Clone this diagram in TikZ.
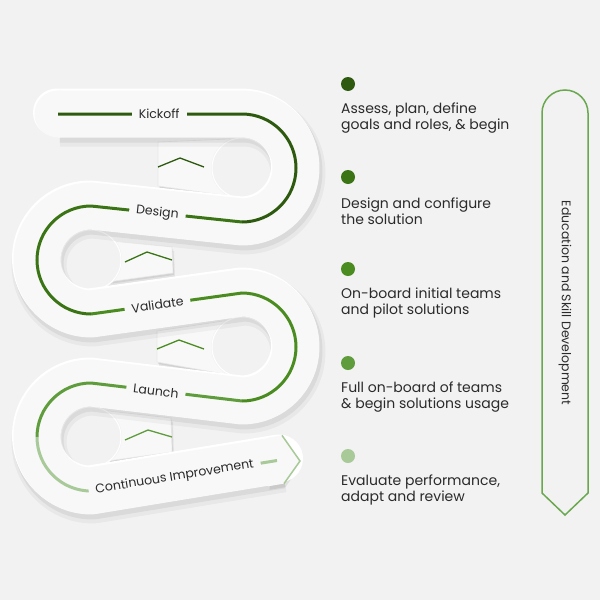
\documentclass[tikz,border=0pt]{standalone}
\usepackage{fontspec}
\setmainfont{Poppins}
\usetikzlibrary{positioning}

\definecolor{bgcol}{HTML}{F2F2F2}
\definecolor{ribbon}{HTML}{F8F8F8}
\definecolor{gA}{HTML}{2D5A0E}
\definecolor{gB}{HTML}{3A7414}
\definecolor{gC}{HTML}{4A8C20}
\definecolor{gD}{HTML}{5E9C3C}
\definecolor{gE}{HTML}{A8C998}
\definecolor{frame}{HTML}{6AA84F}
\definecolor{ink}{HTML}{2A2A2A}

% centre line of the ribbon and its arrow end
\newcommand\ribbonpath{(58,114) -- (242,114) arc[start angle=-90, end angle=90, radius=54]
  -- (91,206) arc[start angle=-90, end angle=-270, radius=54]
  -- (242,293) arc[start angle=-90, end angle=90, radius=54]
  -- (91,383) arc[start angle=-90, end angle=-270, radius=54]
  -- (280,460)}
\newcommand\arrowend{(268,437.7) -- (282,435.4) -- (300,461) -- (284,483.6) -- (268,486.3) -- cycle}

\begin{document}
\begin{tikzpicture}[x=1pt, y=-1pt,
    track/.style={line width=3pt},
    steplabel/.style={fill=ribbon, text=ink, sloped, inner xsep=7pt, inner ysep=1pt,
      font=\fontsize{12.5}{14}\selectfont},
    chevron/.style={line width=1.3pt, line join=miter},
    foldpiece/.style={fill=ribbon, draw=black!9, line width=0.6pt},
    stagedot/.style={circle, inner sep=0pt, minimum size=14pt},
    stagetext/.style={anchor=west, align=left, text=ink, inner sep=0pt,
      font=\fontsize{14}{16.5}\selectfont},
  ]
  % Fondo
  \fill[bgcol] (0,0) rectangle (600,600);
  \useasboundingbox (0,0) rectangle (600,600);

  % Piezas plegadas entre las vueltas
  \foreach \pc in {{(158,142) -- (230,139) -- (230,196) -- (158,186) -- cycle},
                   {(100,240) -- (172,247) -- (173,273) -- (100,283) -- cycle},
                   {(157,331) -- (230,320) -- (230,375) -- (157,362) -- cycle},
                   {(100,410) -- (171,418) -- (172,452) -- (100,462) -- cycle}}{
    \fill[black, opacity=0.06, shift={(2,4)}] \pc;
    \fill[black, opacity=0.07, shift={(1,2)}] \pc;
    \draw[foldpiece] \pc;
  }

  % Huecos de las curvas
  \foreach \cx/\cy in {242/168, 91/260, 242/347, 91/437}{
    \fill[bgcol] (\cx,\cy) circle[radius=31];
    \draw[white, line width=1pt] (\cx,\cy) circle[radius=30];
  }

  % Sombra y cuerpo de la cinta
  \draw[black, opacity=0.04, line width=55pt, line join=round, shift={(2,5)}] \ribbonpath;
  \draw[black, opacity=0.06, line width=50pt, line join=round, shift={(1.5,3.5)}] \ribbonpath;
  \fill[black, opacity=0.07, shift={(1.5,3.5)}] \arrowend;
  \draw[white, line width=48pt, line join=round, line cap=round, shift={(-1,-1.5)}] \ribbonpath;
  \draw[ribbon, line width=47pt, line join=round] \ribbonpath;
  \fill[ribbon] \arrowend;
  \fill[ribbon] (58,114) circle[radius=23.5];

  % Chevrones de las piezas
  \draw[chevron, gA] (158,167) -- (180,158) -- (204,167);
  \draw[chevron, gB] (125,262) -- (147,252) -- (172,260);
  \draw[chevron, gC] (157,349) -- (179,340) -- (204,349);
  \draw[chevron, gD] (125,440) -- (148,430) -- (172,437);

  % Linea central con las etapas
  \draw[track, gA] (58,114) -- node[steplabel, pos=0.55] (kickoff) {Kickoff}
    (242,114) arc[start angle=-90, end angle=90, radius=54];
  \draw[track, gB] (242,222) -- node[steplabel, pos=0.56] (design) {Design}
    (91,206) arc[start angle=-90, end angle=-270, radius=54];
  \draw[track, gC] (91,314) -- node[steplabel, pos=0.44] (validate) {Validate}
    (242,293) arc[start angle=-90, end angle=90, radius=54];
  \draw[track, gD] (242,401) -- node[steplabel, pos=0.57] (launch) {Launch}
    (91,383) arc[start angle=-90, end angle=-180, radius=54];
  \draw[track, gE] (37,437) arc[start angle=-180, end angle=-270, radius=54]
    -- node[steplabel, pos=0.45] (improve) {Continuous Improvement} (277,460.5);

  % Punta de flecha
  \draw[gE, line width=1.5pt, line join=miter] (282,435.4) -- (300,461) -- (284,483.6);

  % Descripciones
  \foreach \n/\y/\col/\txt in {1/84/gA/{Assess, plan, define\\goals and roles, \& begin},
      2/177/gB/{Design and configure\\the solution},
      3/269/gC/{On-board initial teams\\and pilot solutions},
      4/363/gD/{Full on-board of teams\\\& begin solutions usage},
      5/456/gE/{Evaluate performance,\\adapt and review}}{
    \node[stagedot, fill=\col] (dot\n) at (348,\y) {};
    \node[stagetext] (desc\n) at (341,\y+34) {\txt};
  }

  % Flecha vertical
  \draw[frame, line width=1.5pt, line join=miter] (542,493) -- (542,113)
    arc[start angle=180, end angle=360, radius=23] -- (588,493) -- (565,515) -- cycle;
  \node[rotate=-90, text=ink, font=\fontsize{12.5}{15}\selectfont] (edu) at (565,303)
    {Education and Skill Development};
\end{tikzpicture}
\end{document}
